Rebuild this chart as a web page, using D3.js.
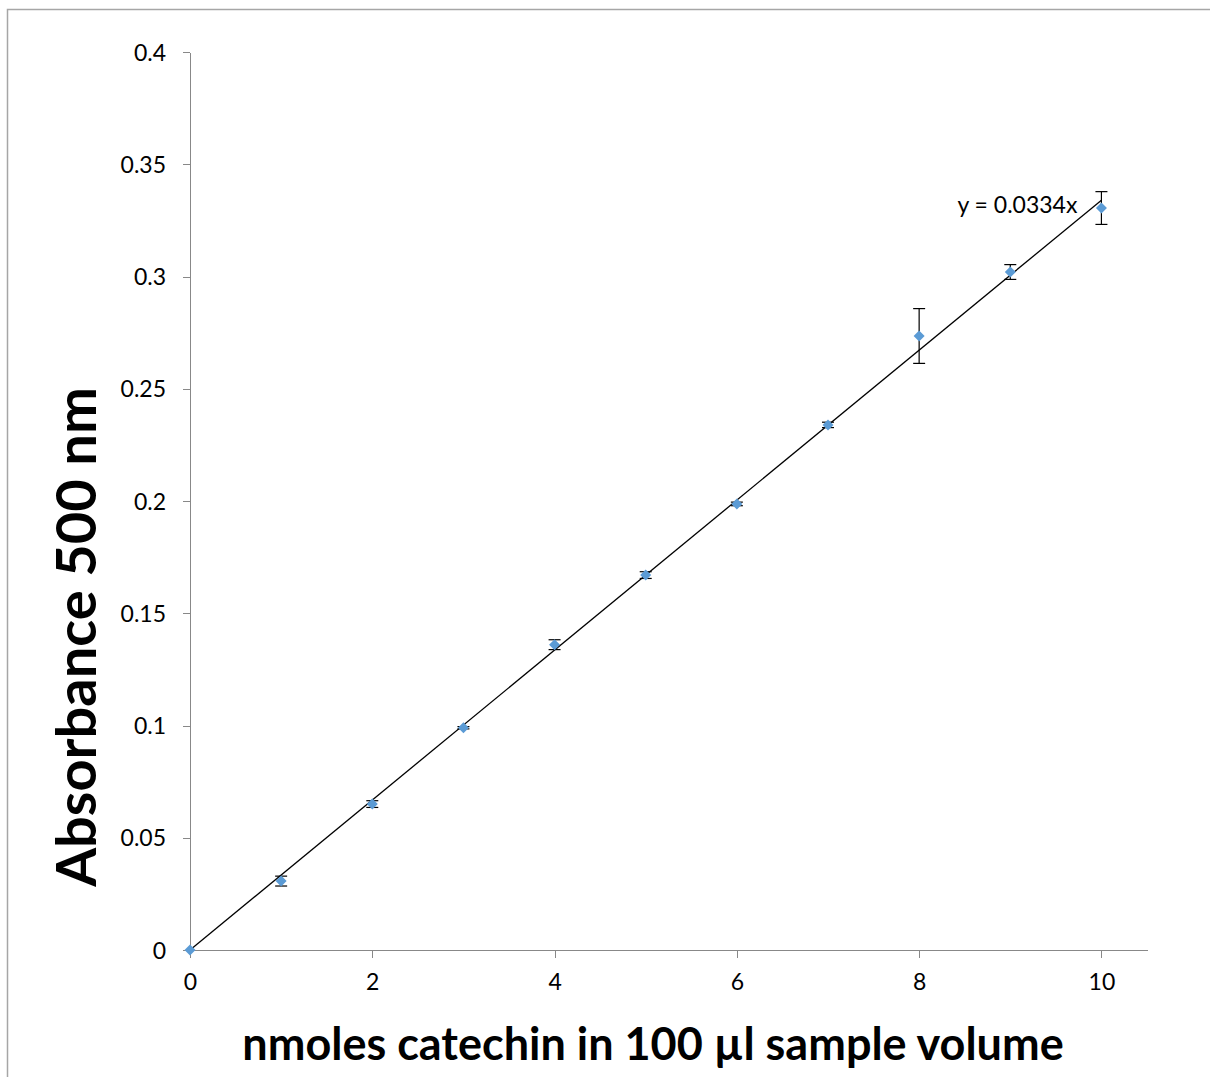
<!DOCTYPE html>
<html>
<head>
<meta charset="utf-8">
<script src="https://cdn.jsdelivr.net/npm/d3@7"></script>
<style>
  body { margin: 0; background: #fff; }
  .axis path, .axis line { stroke: #888; shape-rendering: crispEdges; }
  .axis text { font-family: Lato, "Open Sans", sans-serif; font-size: 23px; fill: #000; }
</style>
</head>
<body>
<div id="chart"></div>
<script>
// catechin standard curve
const nmoles = [0, 1, 2, 3, 4, 5, 6, 7, 8, 9, 10];
const absorbance = [0, 0.0307, 0.065, 0.099, 0.136, 0.167, 0.1987, 0.2339, 0.2735, 0.302, 0.3305];
const errors = [0, 0.0022, 0.0015, 0.0005, 0.0022, 0.0015, 0.0008, 0.0012, 0.0122, 0.0033, 0.0073];
const slope = 0.0334;
const xTicks = [0, 2, 4, 6, 8, 10];
const yTicks = [0, 0.05, 0.1, 0.15, 0.2, 0.25, 0.3, 0.35, 0.4];

const W = 1210, H = 1077;
const margin = {top: 52, right: 63, bottom: 127, left: 190};
const width = W - margin.left - margin.right;
const height = H - margin.top - margin.bottom;

const svg = d3.select('#chart').append('svg')
  .attr('width', W)
  .attr('height', H);

// chart area border (cropped by the picture)
svg.append('rect')
  .attr('x', 7.5).attr('y', 9.5)
  .attr('width', W + 10).attr('height', H + 10)
  .style('fill', 'none')
  .style('stroke', '#a6a6a6')
  .style('stroke-width', 1.5);

const g = svg.append('g')
  .attr('transform', `translate(${margin.left},${margin.top})`);

const x = d3.scaleLinear().domain([0, 10.5]).range([0, width]);
const y = d3.scaleLinear().domain([0, 0.4]).range([height, 0]);

const xAxis = d3.axisBottom(x)
  .tickValues(xTicks)
  .tickSizeInner(8)
  .tickSizeOuter(0)
  .tickPadding(12)
  .tickFormat(d3.format('d'));
const yAxis = d3.axisLeft(y)
  .tickValues(yTicks)
  .tickSizeInner(7)
  .tickSizeOuter(0)
  .tickPadding(17)
  .tickFormat(d => d === 0 ? '0' : String(+d.toFixed(2)));

g.append('g')
  .attr('class', 'x axis')
  .attr('transform', `translate(0, ${height})`)
  .call(xAxis)
  .selectAll('text').attr('dy', '0.85em');

g.append('g')
  .attr('class', 'y axis')
  .call(yAxis)
  .selectAll('text').attr('dy', '0.35em');

// trendline through the origin
g.append('line')
  .attr('x1', x(0)).attr('y1', y(0))
  .attr('x2', x(10)).attr('y2', y(slope * 10))
  .style('stroke', '#000')
  .style('stroke-width', 1.3);

const data = nmoles.map((n, i) => ({ n, a: absorbance[i], e: errors[i] }));

/* error bars */
const bars = g.append('g').attr('class', 'errorbars')
  .selectAll('.bar')
  .data(data.filter(d => d.e > 0))
  .enter().append('g')
  .attr('class', 'bar')
  .style('stroke', '#000')
  .style('stroke-width', 1.2);
bars.append('line')
  .attr('x1', d => x(d.n)).attr('x2', d => x(d.n))
  .attr('y1', d => y(d.a + d.e)).attr('y2', d => y(d.a - d.e));
bars.append('line')
  .attr('x1', d => x(d.n) - 6).attr('x2', d => x(d.n) + 6)
  .attr('y1', d => y(d.a + d.e)).attr('y2', d => y(d.a + d.e));
bars.append('line')
  .attr('x1', d => x(d.n) - 6).attr('x2', d => x(d.n) + 6)
  .attr('y1', d => y(d.a - d.e)).attr('y2', d => y(d.a - d.e));

/* diamond markers */
g.append('g').attr('class', 'points')
  .selectAll('path')
  .data(data)
  .enter().append('path')
  .attr('transform', d => `translate(${x(d.n)},${y(d.a)})`)
  .attr('d', 'M0,-5.5L5.5,0L0,5.5L-5.5,0Z')
  .style('fill', '#5b9bd5');

g.append('text')
  .attr('x', x(10) - 24)
  .attr('y', y(0.3285))
  .style('text-anchor', 'end')
  .style('font-family', 'Lato, "Open Sans", sans-serif')
  .style('font-size', '23px')
  .text(`y = ${slope}x`);

/* axis titles */
svg.append('text')
  .attr('x', 653)
  .attr('y', 1060)
  .style('text-anchor', 'middle')
  .style('font-family', 'Lato, "Open Sans", sans-serif')
  .style('font-weight', 'bold')
  .style('font-size', '45px')
  .text('nmoles catechin in 100 µl sample volume');

svg.append('text')
  .attr('transform', 'translate(96, 637) rotate(-90)')
  .style('text-anchor', 'middle')
  .style('font-family', 'Lato, "Open Sans", sans-serif')
  .style('font-weight', 'bold')
  .style('font-size', '56px')
  .text('Absorbance 500 nm');
</script>
</body>
</html>
